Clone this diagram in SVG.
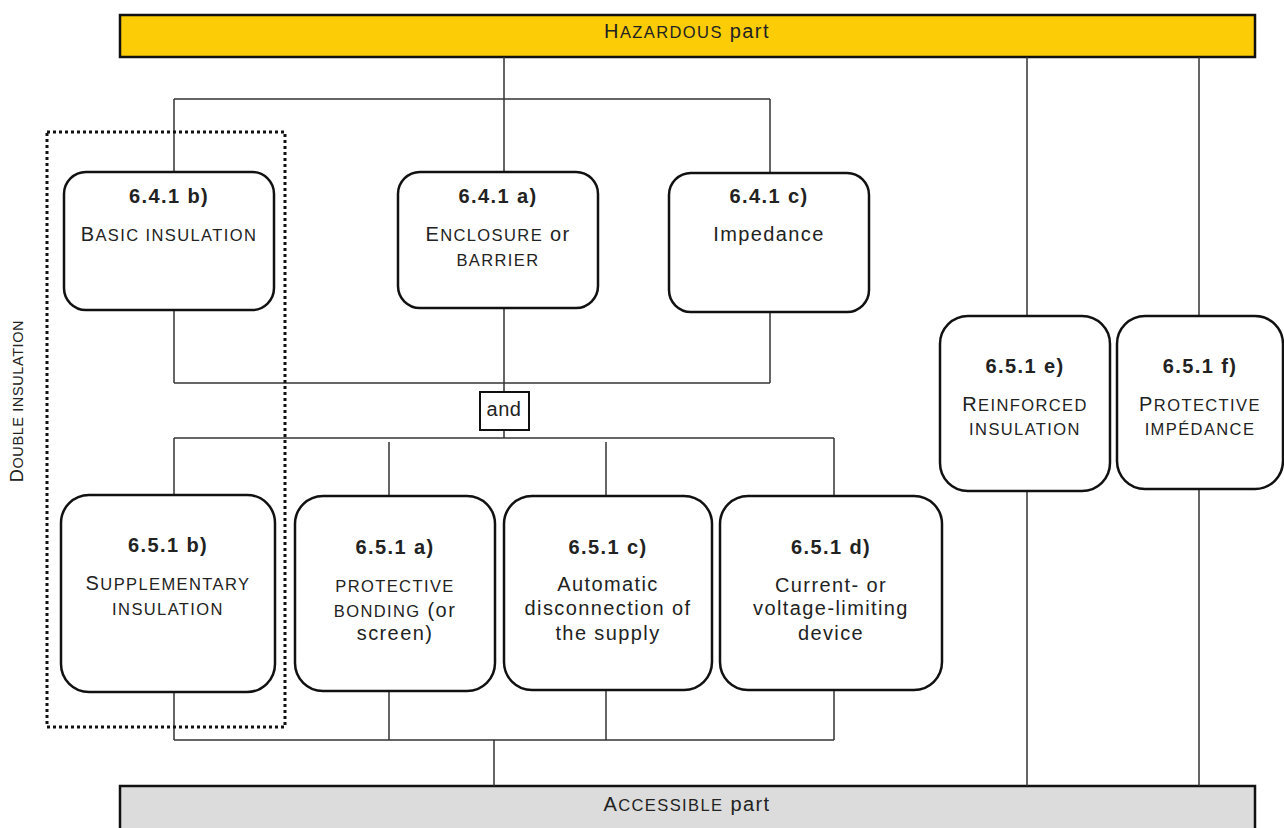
<svg xmlns="http://www.w3.org/2000/svg" width="1284" height="828" viewBox="0 0 1284 828">
<style>
text{font-family:"Liberation Sans",Arial,sans-serif;fill:#222;letter-spacing:1.4px}
.t{font-size:20px;text-anchor:middle}
.b{font-weight:bold}
.sc{font-size:16.5px}
.box{fill:#fff;stroke:#111;stroke-width:2.5}
.conn line{stroke:#333;stroke-width:1.5}
</style>
<rect width="1284" height="828" fill="#fff"/>
<g id="hazardous">
<rect x="120" y="15" width="1135" height="42" fill="#FCCD06" stroke="#111" stroke-width="2.5"/>
<text class="t" x="687" y="38">H<tspan class="sc">AZARDOUS</tspan> part</text>
</g>
<g id="accessible">
<rect x="120" y="786" width="1135" height="60" fill="#DCDCDC" stroke="#111" stroke-width="2.5"/>
<text class="t" x="687" y="811">A<tspan class="sc">CCESSIBLE</tspan> part</text>
</g>
<g class="conn" id="connectors">
<line x1="174" y1="99" x2="770" y2="99"/>
<line x1="174" y1="99" x2="174" y2="172"/>
<line x1="504" y1="57" x2="504" y2="172"/>
<line x1="770" y1="99" x2="770" y2="172"/>
<line x1="174" y1="310" x2="174" y2="383"/>
<line x1="504" y1="308" x2="504" y2="392"/>
<line x1="770" y1="312" x2="770" y2="383"/>
<line x1="174" y1="383" x2="770" y2="383"/>
<line x1="504" y1="430" x2="504" y2="438"/>
<line x1="174" y1="438" x2="834" y2="438"/>
<line x1="174" y1="438" x2="174" y2="495"/>
<line x1="389" y1="442" x2="389" y2="496"/>
<line x1="606" y1="442" x2="606" y2="496"/>
<line x1="834" y1="438" x2="834" y2="496"/>
<line x1="174" y1="692" x2="174" y2="740"/>
<line x1="389" y1="691" x2="389" y2="740"/>
<line x1="606" y1="690" x2="606" y2="740"/>
<line x1="834" y1="690" x2="834" y2="740"/>
<line x1="174" y1="740" x2="834" y2="740"/>
<line x1="494" y1="740" x2="494" y2="786"/>
<line x1="1027" y1="57" x2="1027" y2="316"/>
<line x1="1027" y1="491" x2="1027" y2="786"/>
<line x1="1199" y1="57" x2="1199" y2="316"/>
<line x1="1199" y1="489" x2="1199" y2="786"/>
</g>
<g id="double-insulation">
<rect x="47" y="132" width="238" height="595" fill="none" stroke="#111" stroke-width="3" stroke-dasharray="3,3"/>
<text class="t" transform="translate(23,401) rotate(-90)" style="font-size:18px;letter-spacing:0.6px">D<tspan style="font-size:14.5px">OUBLE INSULATION</tspan></text>
</g>
<g id="n641b">
<rect class="box" x="64" y="172" width="210" height="138" rx="22"/>
<text class="t b" x="169" y="203">6.4.1 b)</text>
<text class="t" x="169" y="241">B<tspan class="sc">ASIC INSULATION</tspan></text>
</g>
<g id="n641a">
<rect class="box" x="398" y="172" width="200" height="136" rx="22"/>
<text class="t b" x="498" y="203">6.4.1 a)</text>
<text class="t" x="498" y="241">E<tspan class="sc">NCLOSURE</tspan> or</text>
<text class="t sc" x="498" y="266">BARRIER</text>
</g>
<g id="n641c">
<rect class="box" x="669" y="173" width="200" height="139" rx="22"/>
<text class="t b" x="769" y="203">6.4.1 c)</text>
<text class="t" x="769" y="241">Impedance</text>
</g>
<g id="and">
<rect x="480" y="392" width="49" height="38" fill="#fff" stroke="#111" stroke-width="2"/>
<text class="t" x="504" y="416" style="letter-spacing:0.5px">and</text>
</g>
<g id="n651b">
<rect class="box" x="61" y="495" width="214" height="197" rx="28"/>
<text class="t b" x="168" y="552">6.5.1 b)</text>
<text class="t" x="168" y="590">S<tspan class="sc">UPPLEMENTARY</tspan></text>
<text class="t sc" x="168" y="615">INSULATION</text>
</g>
<g id="n651a">
<rect class="box" x="295" y="496" width="200" height="195" rx="28"/>
<text class="t b" x="395" y="554">6.5.1 a)</text>
<text class="t sc" x="395" y="592">PROTECTIVE</text>
<text class="t" x="395" y="617"><tspan class="sc">BONDING</tspan> (or</text>
<text class="t" x="395" y="640">screen)</text>
</g>
<g id="n651c">
<rect class="box" x="504" y="496" width="208" height="194" rx="28"/>
<text class="t b" x="608" y="554">6.5.1 c)</text>
<text class="t" x="608" y="591">Automatic</text>
<text class="t" x="608" y="615">disconnection of</text>
<text class="t" x="608" y="640">the supply</text>
</g>
<g id="n651d">
<rect class="box" x="720" y="496" width="222" height="194" rx="28"/>
<text class="t b" x="831" y="554">6.5.1 d)</text>
<text class="t" x="831" y="592">Current- or</text>
<text class="t" x="831" y="615">voltage-limiting</text>
<text class="t" x="831" y="640">device</text>
</g>
<g id="n651e">
<rect class="box" x="940" y="316" width="170" height="175" rx="28"/>
<text class="t b" x="1025" y="373">6.5.1 e)</text>
<text class="t" x="1025" y="411">R<tspan class="sc">EINFORCED</tspan></text>
<text class="t sc" x="1025" y="435">INSULATION</text>
</g>
<g id="n651f">
<rect class="box" x="1117" y="316" width="166" height="173" rx="28"/>
<text class="t b" x="1200" y="373">6.5.1 f)</text>
<text class="t" x="1200" y="411">P<tspan class="sc">ROTECTIVE</tspan></text>
<text class="t sc" x="1200" y="435">IMPÉDANCE</text>
</g>
</svg>
